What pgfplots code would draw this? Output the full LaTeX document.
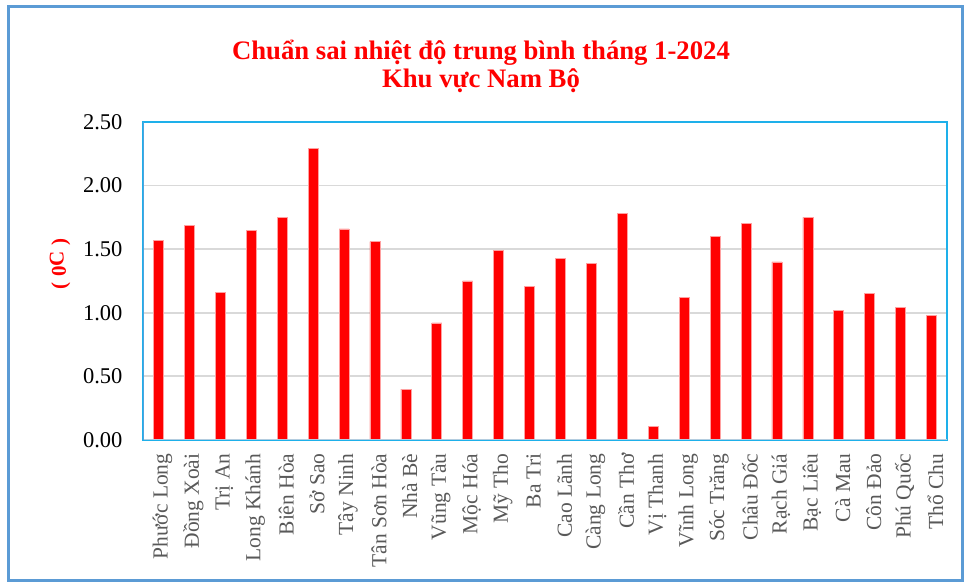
\documentclass[border=0pt]{standalone}
\usepackage{pgfplots}
\pgfplotsset{compat=1.18}
\usepackage{fontspec}
\setmainfont{Liberation Serif}
\definecolor{framecol}{HTML}{5B9BD5}
\definecolor{axcol}{HTML}{1EB0EA}
\definecolor{leftcol}{HTML}{4FA3DE}
\definecolor{botcol}{HTML}{B4CDDF}
\definecolor{gridcol}{HTML}{D9D9D9}
\definecolor{lblgray}{HTML}{595959}
\definecolor{barred}{HTML}{FF0000}
\definecolor{baredge}{HTML}{FFA0A0}
\begin{document}
\begin{tikzpicture}
\path[use as bounding box] (0,0) rectangle (966bp,582bp);
\draw[framecol, line width=3bp] (8.5bp,1.5bp) rectangle (962bp,575bp);
\begin{axis}[
  at={(143bp,142bp)}, anchor=south west,
  scale only axis, width=804bp, height=318bp,
  xmin=-0.5, xmax=25.5, ymin=0, ymax=2.5,
  ytick={0,0.5,1,1.5,2,2.5},
  /pgf/number format/fixed, /pgf/number format/fixed zerofill, /pgf/number format/precision=2, /pgf/number format/assume math mode=true,
  yticklabel style={font=\fontsize{22.5bp}{24bp}\selectfont, text=black, xshift=-17bp},
  xtick=data,
  xticklabels={Phước Long,Đồng Xoài,Trị An,Long Khánh,Biên Hòa,Sở Sao,Tây Ninh,Tân Sơn Hòa,Nhà Bè,Vũng Tàu,Mộc Hóa,Mỹ Tho,Ba Tri,Cao Lãnh,Càng Long,Cần Thơ,Vị Thanh,Vĩnh Long,Sóc Trăng,Châu Đốc,Rạch Giá,Bạc Liêu,Cà Mau,Côn Đảo,Phú Quốc,Thổ Chu},
  xticklabel style={rotate=90, anchor=east, font=\fontsize{21.5bp}{23bp}\selectfont, text=lblgray, yshift=-4bp, xshift=-10bp},
  major tick length=0pt,
  ymajorgrids, grid style={gridcol, line width=1.8bp},
  axis line style={axcol, line width=1.5bp},
  ybar, bar width=10bp,
]
\addplot[fill=barred, draw=baredge, line width=0.6bp] coordinates {
(0,1.57) (1,1.69) (2,1.16) (3,1.65) (4,1.75) (5,2.29) (6,1.66) (7,1.56) (8,0.40) (9,0.92) (10,1.25) (11,1.49) (12,1.21)
(13,1.43) (14,1.39) (15,1.78) (16,0.11) (17,1.12) (18,1.60) (19,1.70) (20,1.40) (21,1.75) (22,1.02) (23,1.15) (24,1.04) (25,0.98)};
\draw[botcol, line width=1.5bp] (rel axis cs:0,0) -- (rel axis cs:1,0);
\draw[leftcol, line width=1.5bp] (rel axis cs:0,0) -- (rel axis cs:0,1);
\end{axis}
\node[anchor=base, text=red, font=\fontsize{26.7bp}{29bp}\selectfont\bfseries] at (481bp,522bp) {Chuẩn sai nhiệt độ trung bình tháng 1-2024};
\node[anchor=base, text=red, font=\fontsize{26.7bp}{29bp}\selectfont\bfseries] at (481bp,494bp) {Khu vực Nam Bộ};
\node[rotate=90, text=red, font=\fontsize{21bp}{23bp}\selectfont\bfseries] at (60bp,318bp) {( 0\raisebox{0.25ex}{C} )};
\end{tikzpicture}
\end{document}
